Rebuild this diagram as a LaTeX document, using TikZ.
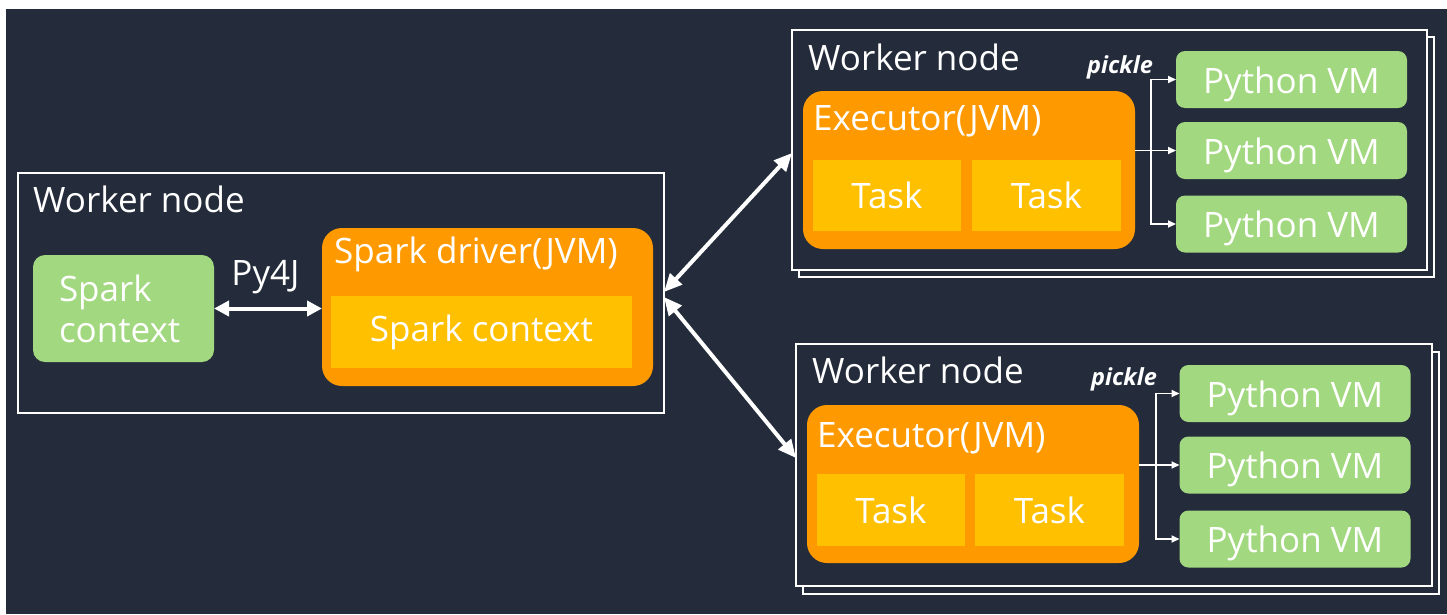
\documentclass[tikz,border=0pt]{standalone}
\usepackage{fontspec}
\setmainfont{Open Sans}
\usetikzlibrary{arrows.meta,calc}
\definecolor{bg}{HTML}{242C3B}
\definecolor{orng}{HTML}{FF9900}
\definecolor{yel}{HTML}{FFC000}
\definecolor{grn}{HTML}{A2D87F}
\tikzset{
 plainbox/.style={rectangle, inner sep=0pt, outer sep=0pt},
 worker/.style={plainbox, draw=white, line width=2pt, fill=bg},
 jvm/.style={plainbox, fill=orng, rounded corners=20pt, minimum width=332pt, minimum height=158pt},
 taskbox/.style={plainbox, fill=yel, text=white, font=\fontsize{35}{41}\selectfont},
 vm/.style={plainbox, fill=grn, rounded corners=9pt, text=white, font=\fontsize{35}{41}\selectfont, minimum width=231pt, minimum height=57pt, text height=27pt, text depth=0pt},
 txt/.style={text=white, font=\fontsize{35}{41}\selectfont, inner sep=0pt},
 picklelbl/.style={text=white, font=\fontsize{23.5}{27}\selectfont\bfseries\itshape, inner sep=0pt},
 bigarrow/.style={draw=white, line width=4pt, {Triangle[length=18pt,width=16pt]}-{Triangle[length=18pt,width=16pt]}},
 pyarrow/.style={draw=white, line width=4pt, {Triangle[length=15pt,width=15pt]}-{Triangle[length=15pt,width=15pt]}},
 thinarrow/.style={draw=white, line width=1.8pt, -{Triangle[length=8pt,width=7pt]}},
}
\begin{document}
\begin{tikzpicture}[x=1pt,y=-1pt]
\useasboundingbox (0,0) rectangle (1447,614);
\fill[bg] (6,9) rectangle (1447,614);
% ---------- left worker ----------
\node[worker, minimum width=646pt, minimum height=240pt] (lw) at (341,293) {};
\node[txt, anchor=base west] (lwt) at (33,212) {Worker node};
\node[plainbox, fill=grn, rounded corners=12pt, minimum width=181pt, minimum height=107pt,
      text width=129pt, align=left, text=white, font=\fontsize{35}{41}\selectfont, inner xsep=26pt]
      (sc) at (123.5,308.5) {Spark\\context};
\node[txt, anchor=base] (py) at (265.5,285) {Py4J};
\node[jvm, minimum width=331pt] (drv) at (487.5,307) {};
\node[txt, anchor=base west] (drvt) at (334,263) {Spark driver(JVM)};
\node[taskbox, minimum width=301pt, minimum height=72pt] (drvsc) at (481.5,332) {Spark context};
\draw[pyarrow] (sc.east) -- (sc.east -| drv.west);
% ---------- top worker ----------
\node[worker, minimum width=635pt, minimum height=240pt] (w1b) at (1116.5,157) {};
\node[worker, minimum width=635pt, minimum height=240pt] (w1) at (1109.5,150) {};
\node[txt, anchor=base west] (w1t) at (808,70) {Worker node};
\node[jvm] (e1) at (969,170) {};
\node[txt, anchor=base west] (e1t) at (813,130) {Executor(JVM)};
\node[taskbox, minimum width=148pt, minimum height=71pt] (t11) at (887,195.5) {Task};
\node[taskbox, minimum width=149pt, minimum height=71pt] (t12) at (1046.5,195.5) {Task};
\node[vm] (v11) at (1291.5,79.5) {Python VM};
\node[vm] (v12) at (1291.5,150.5) {Python VM};
\node[vm] (v13) at (1291.5,224) {Python VM};
\coordinate (b1) at (1151,150.5);
\draw[thinarrow] (e1.east |- v12.west) -- (v12.west);
\draw[thinarrow] (b1) |- (v11.west);
\draw[thinarrow] (b1) |- (v13.west);
\node[picklelbl, anchor=base] (p1) at (1120,73) {pickle};
% ---------- bottom worker ----------
\node[worker, minimum width=636pt, minimum height=242pt] (w2b) at (1121,473) {};
\node[worker, minimum width=636pt, minimum height=242pt] (w2) at (1114,465) {};
\node[txt, anchor=base west] (w2t) at (812,383) {Worker node};
\node[jvm] (e2) at (973,484) {};
\node[txt, anchor=base west] (e2t) at (817,447) {Executor(JVM)};
\node[taskbox, minimum width=148pt, minimum height=72pt] (t21) at (891,510) {Task};
\node[taskbox, minimum width=149pt, minimum height=72pt] (t22) at (1049.5,510) {Task};
\node[vm] (v21) at (1295,393.5) {Python VM};
\node[vm] (v22) at (1295,465) {Python VM};
\node[vm] (v23) at (1295,539) {Python VM};
\coordinate (b2) at (1156,465);
\draw[thinarrow] (e2.east |- v22.west) -- (v22.west);
\draw[thinarrow] (b2) |- (v21.west);
\draw[thinarrow] (b2) |- (v23.west);
\node[picklelbl, anchor=base] (p2) at (1124,385) {pickle};
% ---------- driver <-> executors ----------
\draw[bigarrow] ([yshift=1pt]lw.east) -- ([yshift=-3pt]w1.west);
\draw[bigarrow] ([yshift=-4pt]lw.east) -- ([yshift=7pt]w2.west);
\end{tikzpicture}
\end{document}
